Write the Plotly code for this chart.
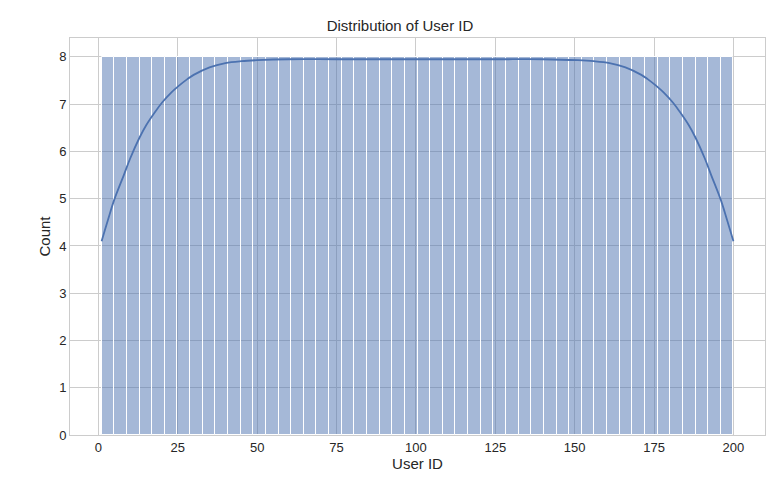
import numpy as np
import plotly.graph_objects as go

# histogram: 50 bins over user IDs 1..200, each with 8 records
bin_edges = list(np.linspace(1, 200, 51))
counts = [8] * 50

# kde curve (scaled to counts)
kde_x = [1, 3, 5, 8, 10, 13, 15, 18, 20, 23, 25, 28, 30, 35, 40, 45, 50, 60, 75, 100,
         125, 140, 151, 156, 161, 166, 171, 173, 176, 178, 181, 183, 186, 188, 191, 193, 196, 198, 200]
kde_y = [4.1, 4.55, 4.98, 5.5, 5.85, 6.3, 6.55, 6.85, 7.03, 7.25, 7.37, 7.53, 7.62, 7.78, 7.87, 7.91, 7.93, 7.95, 7.95, 7.95,
         7.95, 7.95, 7.93, 7.91, 7.87, 7.78, 7.62, 7.53, 7.37, 7.25, 7.03, 6.85, 6.55, 6.3, 5.85, 5.5, 4.98, 4.55, 4.1]

centers = [(a + b) / 2 for a, b in zip(bin_edges[:-1], bin_edges[1:])]
width = bin_edges[1] - bin_edges[0]

fig = go.Figure()
fig.add_trace(go.Bar(x=centers, y=counts, width=width,
                     marker=dict(color="rgba(76,114,176,0.5)",
                                 line=dict(color="white", width=1))))
fig.add_trace(go.Scatter(x=kde_x, y=kde_y, mode="lines", line_shape="spline",
                         line=dict(color="#4c72b0", width=1.8)))

axis = dict(showgrid=True, gridcolor="#cccccc", gridwidth=1, zeroline=False,
            showline=True, linecolor="#cccccc", linewidth=1, mirror=True,
            ticks="", automargin=False, tickfont=dict(size=13, color="#262626"))
fig.update_xaxes(axis, range=[-8.95, 209.95], tickvals=[0, 25, 50, 75, 100, 125, 150, 175, 200],
                 title=dict(text="User ID", font=dict(size=15, color="#262626"), standoff=4))
fig.update_yaxes(axis, range=[0, 8.4], dtick=1,
                 title=dict(text="Count", font=dict(size=15, color="#262626"), standoff=4))
fig.update_layout(width=784, height=484, showlegend=False, bargap=0,
                  plot_bgcolor="white", paper_bgcolor="white",
                  font=dict(family="Liberation Sans, Arial, sans-serif"),
                  margin=dict(l=62, r=27, t=30, b=57),
                  title=dict(text="Distribution of User ID", x=0.5, xanchor="center",
                             y=0.975, font=dict(size=15, color="#262626")))
fig.write_html("out.html")
